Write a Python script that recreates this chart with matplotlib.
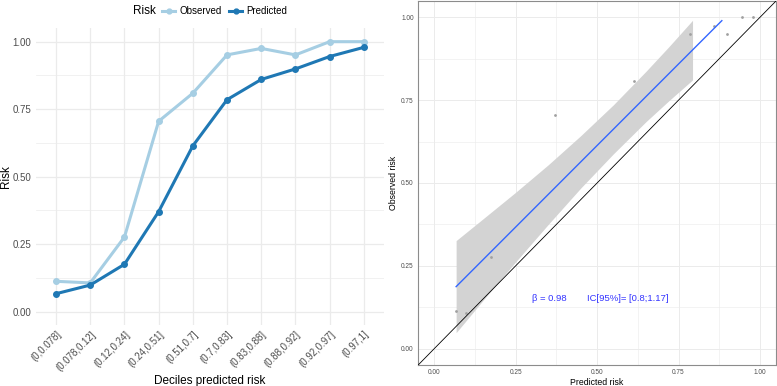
import numpy as np
import matplotlib.pyplot as plt
from matplotlib.lines import Line2D

plt.rcParams['font.family'] = ['Liberation Sans', 'DejaVu Sans']

# deciles of predicted risk
deciles = ['(0,0.078]', '(0.078,0.12]', '(0.12,0.24]', '(0.24,0.51]', '(0.51,0.7]',
           '(0.7,0.83]', '(0.83,0.88]', '(0.88,0.92]', '(0.92,0.97]', '(0.97,1]']
observed = [0.112, 0.106, 0.276, 0.705, 0.809, 0.951, 0.975, 0.951, 1.0, 1.0]
predicted = [0.066, 0.098, 0.175, 0.370, 0.614, 0.785, 0.860, 0.899, 0.945, 0.979]

# calibration fit (as drawn)
fit_x = [0.067, 0.883]
fit_y = [0.187, 0.990]
band_x = [0.067, 0.15, 0.25, 0.35, 0.45, 0.55, 0.65, 0.72, 0.793]
band_hi = [0.326, 0.392, 0.472, 0.555, 0.643, 0.736, 0.837, 0.911, 0.991]
band_lo = [0.048, 0.146, 0.262, 0.375, 0.485, 0.588, 0.685, 0.748, 0.811]
beta_txt = 'β = 0.98'
ic_txt = 'IC[95%]= [0.8;1.17]'

c_obs = '#A6CEE3'
c_pred = '#1F78B4'
grid_c = '#EBEBEB'

fig = plt.figure(figsize=(7.77, 3.86), dpi=100)

# ---- left panel: observed vs predicted by decile
ax1 = fig.add_axes([0.0457, 0.158, 0.449, 0.769])
xs = np.arange(1, len(deciles) + 1)
ax1.plot(xs, observed, color=c_obs, lw=2.2, marker='o', ms=4, zorder=3)
ax1.plot(xs, predicted, color=c_pred, lw=2.2, marker='o', ms=4, zorder=3)
ax1.set_xlim(0.4, 10.6)
ax1.set_ylim(-0.05, 1.05)
ax1.set_yticks([0, 0.25, 0.5, 0.75, 1.0])
ax1.set_yticklabels(['0.00', '0.25', '0.50', '0.75', '1.00'])
ax1.set_yticks([0.125, 0.375, 0.625, 0.875], minor=True)
ax1.set_xticks(xs)
ax1.set_xticklabels(deciles, rotation=45, ha='right', rotation_mode='anchor')
ax1.tick_params(which='both', length=0, labelsize=7, colors='#4D4D4D', pad=3)
ax1.grid(True, which='major', color=grid_c, lw=0.9)
ax1.grid(True, which='minor', axis='y', color=grid_c, lw=0.5)
ax1.set_axisbelow(True)
for s in ax1.spines.values():
    s.set_visible(False)
ax1.set_xlabel('Deciles predicted risk', fontsize=8.5, labelpad=2)
ax1.set_ylabel('Risk', fontsize=8.5)
ax1.yaxis.set_label_coords(-0.068, 0.5)

fig.text(0.171, 0.971, 'Risk', fontsize=8.5, va='center')
handles = [Line2D([], [], color=c_obs, lw=2.2, marker='o', ms=3.5),
           Line2D([], [], color=c_pred, lw=2.2, marker='o', ms=3.5)]
fig.legend(handles, ['Observed', 'Predicted'], ncol=2, loc='center left',
           bbox_to_anchor=(0.209, 0.971), frameon=False, fontsize=7,
           handlelength=1.3, handletextpad=0.45, columnspacing=0.8,
           borderaxespad=0, borderpad=0)

# ---- right panel: calibration plot
ax2 = fig.add_axes([0.538, 0.054, 0.461, 0.944])
ax2.fill_between(band_x, band_lo, band_hi, color='#D3D3D3', lw=0, zorder=1)
ax2.plot(fit_x, fit_y, color='#3366FF', lw=1.0, zorder=3)
ax2.scatter(predicted, observed, s=4, color='#A0A0A0', zorder=2, lw=0)
ax2.axline((0, 0), slope=1, color='black', lw=0.6, zorder=4)
ax2.set_xlim(-0.05, 1.05)
ax2.set_ylim(-0.05, 1.05)
ticks = [0, 0.25, 0.5, 0.75, 1.0]
tlab = ['0.00', '0.25', '0.50', '0.75', '1.00']
ax2.set_xticks(ticks)
ax2.set_xticklabels(tlab)
ax2.set_yticks(ticks)
ax2.set_yticklabels(tlab)
ax2.set_xticks([0.125, 0.375, 0.625, 0.875], minor=True)
ax2.set_yticks([0.125, 0.375, 0.625, 0.875], minor=True)
ax2.tick_params(which='both', length=0, labelsize=4.7, colors='#4D4D4D', pad=3)
ax2.grid(True, which='major', color=grid_c, lw=0.7)
ax2.grid(True, which='minor', color=grid_c, lw=0.4)
ax2.set_axisbelow(True)
for s in ax2.spines.values():
    s.set_color('#8C8C8C')
    s.set_linewidth(0.8)
ax2.set_xlabel('Predicted risk', fontsize=6.3, labelpad=1)
ax2.set_ylabel('Observed risk', fontsize=6.3, labelpad=2)
ax2.text(0.30, 0.15, beta_txt, color='#3333FF', fontsize=6.8, va='center')
ax2.text(0.47, 0.15, ic_txt, color='#3333FF', fontsize=6.8, va='center')

fig.savefig('out.png', dpi=100)
